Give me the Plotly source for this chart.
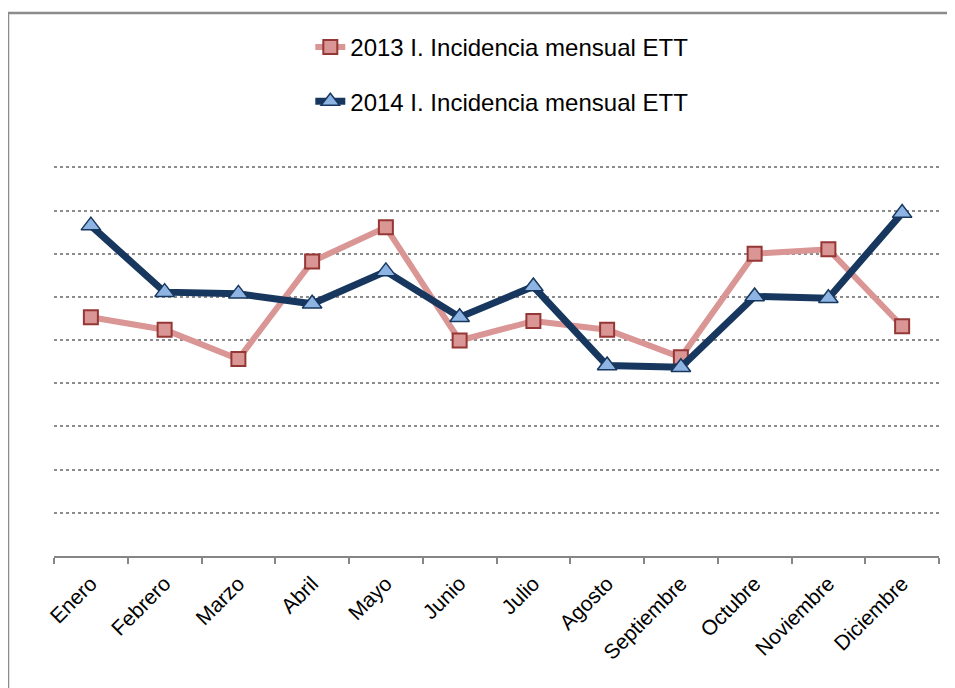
import plotly.graph_objects as go

months = ["Enero", "Febrero", "Marzo", "Abril", "Mayo", "Junio", "Julio",
          "Agosto", "Septiembre", "Octubre", "Noviembre", "Diciembre"]
serie_2013 = [5.53, 5.24, 4.56, 6.82, 7.61, 4.99, 5.44, 5.24, 4.60, 7.00, 7.10, 5.32]
serie_2014 = [7.65, 6.11, 6.07, 5.84, 6.59, 5.53, 6.24, 4.41, 4.37, 6.01, 5.97, 7.94]
name_2013 = "2013 I. Incidencia mensual ETT"
name_2014 = "2014 I. Incidencia mensual ETT"

# page has an 8px body margin; plot area on screen: x 54..939, y 163..556
PH = 393.0

fig = go.Figure()
fig.add_trace(go.Scatter(
    x=months, y=serie_2013, name=name_2013, mode="lines+markers",
    legendgroup="a",
    line=dict(color="#D99694", width=6),
    marker=dict(symbol="square", size=14, color="#D99694",
                line=dict(color="#953735", width=2)),
))
fig.add_trace(go.Scatter(
    x=months, y=serie_2014, name=name_2014, mode="lines+markers",
    legendgroup="b",
    line=dict(color="#17375E", width=7),
    marker=dict(symbol="triangle-up", size=17, color="#8EB4E3",
                line=dict(color="#17375E", width=1.5)),
))

fig.update_layout(
    width=947, height=680,
    margin=dict(l=46, r=16, t=155, b=132),
    paper_bgcolor="white", plot_bgcolor="white",
    font=dict(family="Liberation Sans, Arial, sans-serif", color="black"),
    showlegend=True,
    legend=dict(
        orientation="v", x=0.506, xanchor="center", y=(556 - 25) / PH, yanchor="top",
        font=dict(size=24, color="black"), traceorder="grouped",
        tracegroupgap=20, bgcolor="rgba(0,0,0,0)",
    ),
    xaxis=dict(
        showline=True, linecolor="#868686", linewidth=2,
        ticks="outside", ticklen=6, tickwidth=2, tickcolor="#868686",
        tickson="boundaries", tickangle=-45, showgrid=False,
        ticklabelstandoff=5,
        tickfont=dict(size=21, color="black"),
        range=[-0.5, 11.5],
    ),
    yaxis=dict(
        range=[0, 9.1], dtick=1, showticklabels=False, ticks="",
        showgrid=True, gridcolor="#8C8C8C", gridwidth=1.5, griddash="dot",
        zeroline=False, showline=False,
    ),
    shapes=[dict(
        type="rect", xref="paper", yref="paper",
        x0=(8 - 54) / 885, x1=(980 - 54) / 885,
        y0=(556 - 720) / PH, y1=(556 - 13) / PH,
        line=dict(color="#8C8C8C", width=2.5), layer="below",
    )],
)

fig.write_html("out.html")
